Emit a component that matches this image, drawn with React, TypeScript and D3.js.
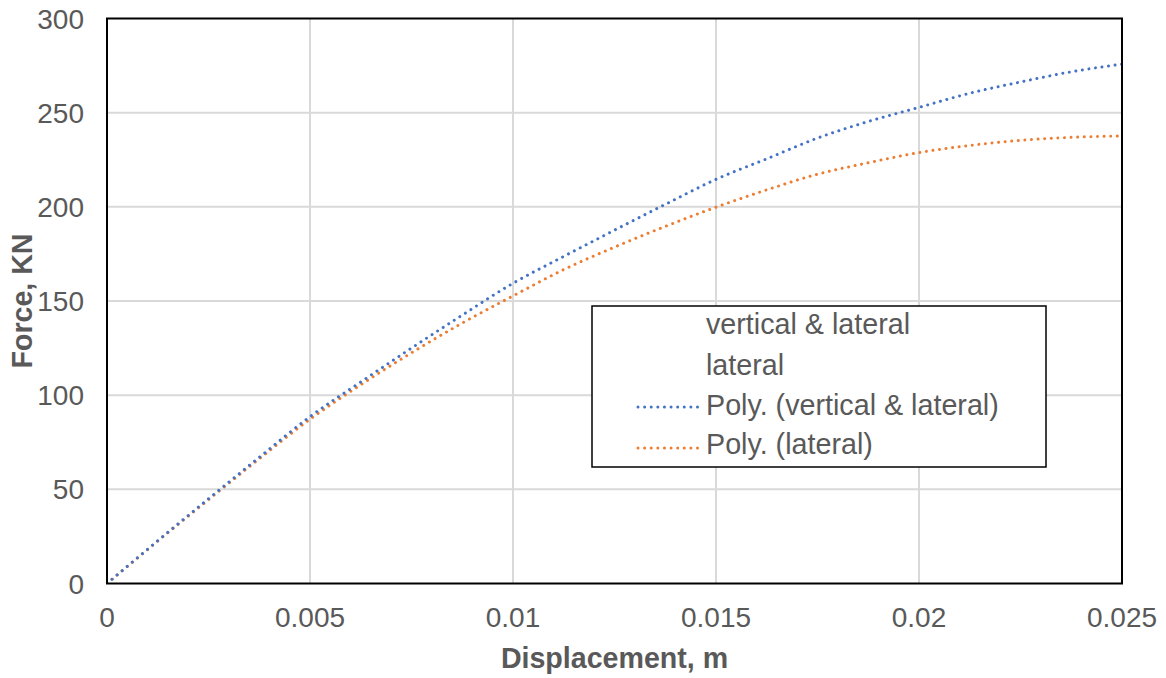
import React from "react";
import * as d3 from "d3";

// Displacement (m) at which the trendline values are sampled
const displacement = [
  0, 0.00125, 0.0025, 0.00375, 0.005, 0.00625, 0.0075, 0.00875, 0.01, 0.01125,
  0.0125, 0.01375, 0.015, 0.01625, 0.0175, 0.01875, 0.02, 0.02125, 0.0225,
  0.02375, 0.025,
];

// Poly. (vertical & lateral) — force in KN
const forceVerticalLateral = [
  0, 22.7, 45.0, 67.0, 88.6, 107.0, 125.0, 142.5, 159.4, 173.7, 187.6, 201.3,
  214.6, 225.5, 236.5, 245.3, 252.8, 260.3, 266.3, 271.7, 275.8,
];

// Poly. (lateral) — force in KN
const forceLateral = [
  0, 22.5, 44.5, 66.2, 87.2, 105.5, 122.5, 138.3, 152.7, 166.7, 178.6, 189.6,
  199.8, 209.0, 217.3, 223.4, 228.8, 232.6, 235.3, 236.9, 237.6,
];

const xTicks = [0, 0.005, 0.01, 0.015, 0.02, 0.025];
const yTicks = [0, 50, 100, 150, 200, 250, 300];

const legendLabels = [
  "vertical & lateral",
  "lateral",
  "Poly. (vertical & lateral)",
  "Poly. (lateral)",
];

const BLUE = "#4472C4";
const ORANGE = "#ED7D31";
const TEXT = "#595959";
const FONT = "'Liberation Sans', Arial, sans-serif";

export default function App() {
  const width = 1166;
  const height = 678;
  const left = 107;
  const right = 1122;
  const top = 18.5;
  const bottom = 583.5;

  const x = d3.scaleLinear().domain([0, 0.025]).range([left, right]);
  const y = d3.scaleLinear().domain([0, 300]).range([bottom, top]);

  const line = d3
    .line<number>()
    .x((_, i) => x(displacement[i]))
    .y((v) => y(v))
    .curve(d3.curveMonotoneX);

  const dotted = {
    fill: "none",
    strokeWidth: 3,
    strokeLinecap: "round" as const,
    strokeDasharray: "0.01 6.6",
  };

  const legendRowsY = [334, 375, 415, 454];

  return (
    <svg
      width={width}
      height={height}
      style={{ position: "absolute", left: 0, top: 0, background: "#fff" }}
      fontFamily={FONT}
    >
      <defs>
        <clipPath id="plot-clip">
          <rect x={left} y={top - 2} width={right - left + 2} height={bottom - top + 2} />
        </clipPath>
      </defs>

      {/* gridlines */}
      {xTicks.slice(1, -1).map((t) => (
        <line key={"gx" + t} x1={x(t)} x2={x(t)} y1={top} y2={bottom} stroke="#d9d9d9" strokeWidth={2} />
      ))}
      {yTicks.slice(1, -1).map((t) => (
        <line key={"gy" + t} x1={left} x2={right} y1={y(t)} y2={y(t)} stroke="#d9d9d9" strokeWidth={2} />
      ))}

      {/* trendlines */}
      <g clipPath="url(#plot-clip)">
        <path d={line(forceLateral) || ""} stroke={ORANGE} {...dotted} />
        <path d={line(forceVerticalLateral) || ""} stroke={BLUE} {...dotted} />
      </g>

      {/* plot frame */}
      <rect x={left} y={top} width={right - left} height={bottom - top} fill="none" stroke="#000" strokeWidth={2} />

      {/* y tick labels */}
      {yTicks.map((t) => (
        <text key={"ty" + t} x={84} y={y(t)} dy="0.36em" textAnchor="end" fontSize={28} fill={TEXT}>
          {t}
        </text>
      ))}
      {/* x tick labels */}
      {xTicks.map((t) => (
        <text key={"tx" + t} x={x(t)} y={627} textAnchor="middle" fontSize={28} fill={TEXT}>
          {t}
        </text>
      ))}

      {/* axis titles */}
      <text x={(left + right) / 2} y={668} textAnchor="middle" fontSize={28.6} fontWeight="bold" fill={TEXT}>
        Displacement, m
      </text>
      <text
        transform={`translate(32, ${(top + bottom) / 2}) rotate(-90)`}
        textAnchor="middle"
        fontSize={28.6}
        fontWeight="bold"
        fill={TEXT}
      >
        Force, KN
      </text>

      {/* legend */}
      <rect x={592} y={306} width={454} height={161} fill="#fff" stroke="#000" strokeWidth={1.5} />
      {legendLabels.map((label, i) => (
        <text key={label} x={706} y={legendRowsY[i]} fontSize={28.7} fill={TEXT}>
          {label}
        </text>
      ))}
      <line x1={638} x2={698} y1={407} y2={407} stroke={BLUE} {...dotted} />
      <line x1={638} x2={698} y1={448} y2={448} stroke={ORANGE} {...dotted} />
    </svg>
  );
}
